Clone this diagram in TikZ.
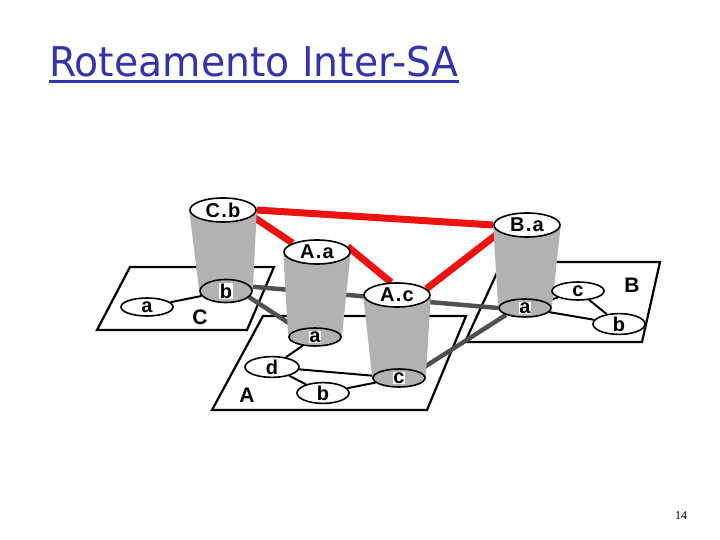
\documentclass[tikz,border=0pt]{standalone}
\usepackage{fontspec}
\setmainfont{Liberation Sans}
\newfontfamily\titlefont{DejaVu Sans}
\newfontfamily\pagefont{Liberation Serif}
\newfontfamily\capfont[LetterSpace=6]{Liberation Sans}
\usepackage{tikz}
\usetikzlibrary{shapes.geometric}
\definecolor{cupgray}{RGB}{178,178,178}
\definecolor{linkgray}{RGB}{80,80,80}
\definecolor{titleblue}{RGB}{51,51,170}
\definecolor{bgpred}{RGB}{236,18,18}
\pgfdeclarelayer{planes}
\pgfdeclarelayer{links}
\pgfdeclarelayer{bodies}
\pgfsetlayers{planes,links,bodies,main}
\newcommand{\halo}[1]{{\setlength{\fboxsep}{0.8pt}\colorbox{white}{#1}}}

\begin{document}
\begin{tikzpicture}[x=1pt, y=-1pt,
    asplane/.style={draw, fill=white, line width=2.2pt},
    topcap/.style={ellipse, draw, fill=white, line width=1.6pt, inner sep=0pt,
        minimum width=66pt, minimum height=24pt,
        font=\capfont\fontsize{20}{20}\selectfont\bfseries},
    basecap/.style={topcap, fill=cupgray, minimum width=52pt, minimum height=18pt},
    router/.style={basecap, fill=white},
    aslabel/.style={font=\capfont\fontsize{21}{21}\selectfont\bfseries},
    intra/.style={line width=2pt},
    inter/.style={line width=4.5pt, linkgray},
    bgp/.style={line width=7pt, bgpred}]
    \useasboundingbox (0,0) rectangle (720,540);
    \node[anchor=base west, inner sep=0pt, text=titleblue,
        font=\titlefont\fontsize{41}{41}\selectfont] (title) at (49,77)
        {\scalebox{0.96}[1]{Roteamento Inter-SA}};
    \draw[titleblue, line width=3.5pt] ([yshift=-4.5pt]title.base west) -- ([yshift=-4.5pt]title.base east);

    \node[topcap] (Cbt) at (223,210) {C.b};
    \node[basecap] (Cbb) at (226,291) {\halo{b}};
    \node[topcap] (Aat) at (317,252) {A.a};
    \node[basecap] (Aab) at (315,337) {\halo{a}};
    \node[topcap] (Act) at (397,295) {A.c};
    \node[basecap] (Acb) at (399,378) {\halo{c}};
    \node[topcap] (Bat) at (527,225) {B.a};
    \node[basecap] (Bab) at (525,308) {\halo{a}};

    \node[router] (Ca) at (147,307) {a};
    \node[router, minimum width=54pt] (Ad) at (272,367) {d};
    \node[router] (Ab) at (323,393) {b};
    \node[router] (Bc) at (578,291) {c};
    \node[router] (Bb) at (619,324) {b};

    \node[aslabel] (Clab) at (200,317) {C};
    \node[aslabel] (Alab) at (247,395) {A};
    \node[aslabel] (Blab) at (632,285) {B};
    \node[font=\pagefont\fontsize{12}{12}\selectfont] (pgno) at (681,516) {14};

    \begin{pgfonlayer}{planes}
        \draw[asplane] (130,267) -- (274,267) -- (247,330) -- (97,330) -- cycle;
        \draw[asplane] (502,262) -- (660,262) -- (642,342) -- (465,342) -- cycle;
        \draw[asplane] (263,316) -- (466,316) -- (427,410) -- (212,410) -- cycle;
    \end{pgfonlayer}

    \begin{pgfonlayer}{bodies}
        \foreach \cupname in {Cb,Aa,Ac,Ba}
            \fill[cupgray] (\cupname t.west) -- (\cupname t.east) -- (\cupname b.east) -- (\cupname b.west) -- cycle;
    \end{pgfonlayer}

    \begin{pgfonlayer}{links}
        \draw[intra] (Ca) -- (Cbb);
        \draw[intra] (Aab) -- (Ad) (Ad) -- (Acb) (Ad) -- (Ab) (Ab) -- (Acb);
        \draw[intra] (Bab) -- (Bc) (Bab) -- (Bb) (Bc) -- (Bb);
        \draw[inter] (Cbb.10) -- (Bab.west);
        \draw[inter] (Cbb.-15) -- (Aab.155);
        \draw[inter] (Acb.north east) -- (Bab.200);
        \draw[bgp] (Cbt.east) -- (Bat.west);
        \draw[bgp] (Cbt.-12) -- (Aat.160);
        \draw[bgp] (Aat.10) -- (Act.115);
        \draw[bgp] (Act.12) -- (Bat.195);
    \end{pgfonlayer}
\end{tikzpicture}
\end{document}
